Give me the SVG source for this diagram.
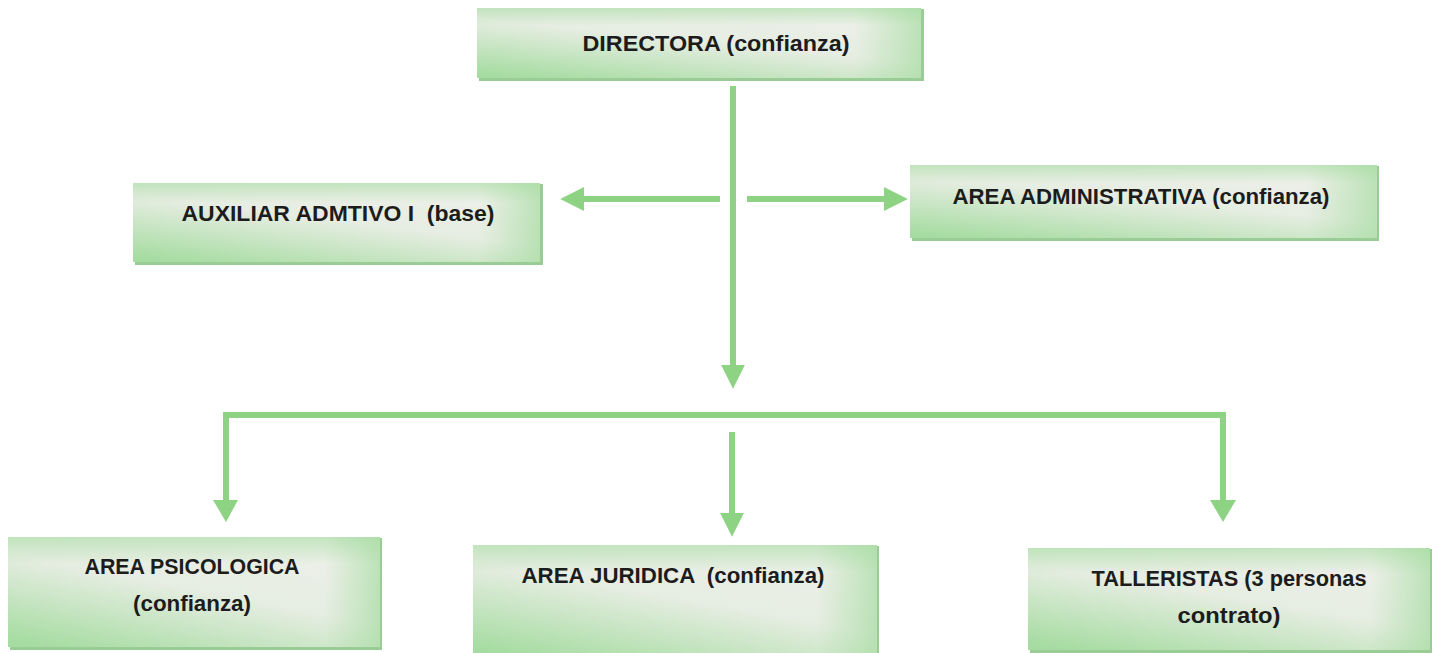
<svg xmlns="http://www.w3.org/2000/svg" width="1440" height="653" viewBox="0 0 1440 653">
<defs>
<linearGradient id="g" x1="0.75" y1="0" x2="0.1" y2="1">
<stop offset="0" stop-color="#eef0ea"/>
<stop offset="0.45" stop-color="#e6ede2"/>
<stop offset="1" stop-color="#a6dca1"/>
</linearGradient>
<linearGradient id="edge" x1="0" y1="0" x2="1" y2="0">
<stop offset="0" stop-color="#a6dca1" stop-opacity="0"/>
<stop offset="0.85" stop-color="#a6dca1" stop-opacity="0"/>
<stop offset="1" stop-color="#a6dca1" stop-opacity="0.7"/>
</linearGradient>
<linearGradient id="top" x1="0" y1="0" x2="0" y2="1">
<stop offset="0" stop-color="#a6dca1" stop-opacity="0.6"/>
<stop offset="0.25" stop-color="#a6dca1" stop-opacity="0"/>
<stop offset="1" stop-color="#a6dca1" stop-opacity="0"/>
</linearGradient>
<marker id="ah" markerWidth="4" markerHeight="4" refX="1.2" refY="2" orient="auto" markerUnits="strokeWidth">
<path d="M0,0 L4,2 L0,4 Z" fill="#8ed384"/>
</marker>
</defs>
<style>
.box{fill:url(#g);}
.ov{fill:url(#edge);}
.ov2{fill:url(#top);}
.sh{fill:#9acc95;}
.t{font-family:"Liberation Sans",Arial,sans-serif;font-weight:bold;font-size:22px;fill:#1c1c1c;text-anchor:middle;white-space:pre;}
.c{stroke:#8ed384;stroke-width:6;fill:none;}
</style>
<rect width="1440" height="653" fill="#ffffff"/>
<g id="connectors">
<line class="c" x1="733" y1="86" x2="733" y2="372" marker-end="url(#ah)"/>
<line class="c" x1="720" y1="199" x2="577" y2="199" marker-end="url(#ah)"/>
<line class="c" x1="747" y1="199" x2="891" y2="199" marker-end="url(#ah)"/>
<polyline class="c" points="226,503 226,415 1223,415 1223,503" />
<path d="M213,500 L238,500 L226,522 Z" fill="#8ed384"/>
<path d="M1210,500 L1236,500 L1223,522 Z" fill="#8ed384"/>
<line class="c" x1="732" y1="432" x2="732" y2="520" marker-end="url(#ah)"/>
</g>
<g id="directora">
<rect class="sh" x="479" y="9" width="445" height="72"/>
<rect class="box" x="477" y="8" width="444" height="70"/>
<rect class="ov" x="477" y="8" width="444" height="70"/>
<rect class="ov2" x="477" y="8" width="444" height="70"/>
<text class="t" x="716" y="51" textLength="267" lengthAdjust="spacingAndGlyphs">DIRECTORA (confianza)</text>
</g>
<g id="auxiliar">
<rect class="sh" x="135" y="184" width="408" height="81"/>
<rect class="box" x="133" y="183" width="407" height="79"/>
<rect class="ov" x="133" y="183" width="407" height="79"/>
<rect class="ov2" x="133" y="183" width="407" height="79"/>
<text class="t" x="338" y="221" textLength="313" lengthAdjust="spacingAndGlyphs" xml:space="preserve">AUXILIAR ADMTIVO I  (base)</text>
</g>
<g id="administrativa">
<rect class="sh" x="912" y="166" width="467" height="75"/>
<rect class="box" x="910" y="165" width="467" height="73"/>
<rect class="ov" x="910" y="165" width="467" height="73"/>
<rect class="ov2" x="910" y="165" width="467" height="73"/>
<text class="t" x="1141" y="204" textLength="377" lengthAdjust="spacingAndGlyphs">AREA ADMINISTRATIVA (confianza)</text>
</g>
<g id="psicologica">
<rect class="sh" x="10" y="538" width="372" height="112"/>
<rect class="box" x="8" y="537" width="372" height="110"/>
<rect class="ov" x="8" y="537" width="372" height="110"/>
<rect class="ov2" x="8" y="537" width="372" height="110"/>
<text class="t" x="192" y="574" textLength="215" lengthAdjust="spacingAndGlyphs">AREA PSICOLOGICA</text>
<text class="t" x="192" y="611" textLength="118" lengthAdjust="spacingAndGlyphs">(confianza)</text>
</g>
<g id="juridica">
<rect class="sh" x="475" y="546" width="404" height="110"/>
<rect class="box" x="473" y="545" width="404" height="110"/>
<rect class="ov" x="473" y="545" width="404" height="110"/>
<rect class="ov2" x="473" y="545" width="404" height="110"/>
<text class="t" x="673" y="583" textLength="303" lengthAdjust="spacingAndGlyphs" xml:space="preserve">AREA JURIDICA  (confianza)</text>
</g>
<g id="talleristas">
<rect class="sh" x="1030" y="549" width="402" height="104"/>
<rect class="box" x="1028" y="548" width="402" height="102"/>
<rect class="ov" x="1028" y="548" width="402" height="102"/>
<rect class="ov2" x="1028" y="548" width="402" height="102"/>
<text class="t" x="1229" y="586" textLength="275" lengthAdjust="spacingAndGlyphs">TALLERISTAS (3 personas</text>
<text class="t" x="1229" y="623" textLength="103" lengthAdjust="spacingAndGlyphs">contrato)</text>
</g>
</svg>
